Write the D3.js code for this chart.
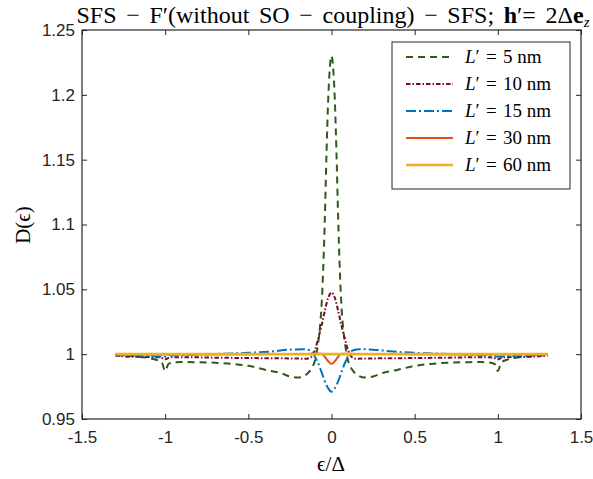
<!DOCTYPE html>
<html><head><meta charset="utf-8">
<script src="https://cdn.jsdelivr.net/npm/d3@7"></script>
<style>body{margin:0;background:#fff}svg{display:block}</style>
</head><body>
<script>
// ---------- data ----------
const xTicks = [-1.5, -1, -0.5, 0, 0.5, 1, 1.5];
const xTickLabels = ["-1.5", "-1", "-0.5", "0", "0.5", "1", "1.5"];
const yTicks = [0.95, 1, 1.05, 1.1, 1.15, 1.2, 1.25];
const yTickLabels = ["0.95", "1", "1.05", "1.1", "1.15", "1.2", "1.25"];

const seriesLengths = ["5", "10", "15", "30", "60"];

const x5 = [-1.3,-1.2,-1.1,-1.05,-1.02,-1.0,-0.98,-0.95,-0.9,-0.8,-0.7,-0.6,-0.5,-0.4,-0.3,-0.25,-0.2,-0.15,-0.12,-0.1,-0.09,-0.08,-0.07,-0.06,-0.05,-0.04,-0.03,-0.02,-0.01,0,
            0.01,0.02,0.03,0.04,0.05,0.06,0.07,0.08,0.09,0.1,0.12,0.15,0.2,0.25,0.3,0.4,0.5,0.6,0.7,0.8,0.9,0.95,0.98,1.0,1.02,1.05,1.1,1.2,1.3];
const y5 = [0.9993,0.9985,0.997,0.9955,0.9935,0.987,0.9925,0.9936,0.9939,0.9938,0.9934,0.9925,0.991,0.988,0.9852,0.9828,0.982,0.9845,0.989,0.995,1.001,1.009,1.020,1.037,1.065,1.105,1.155,1.196,1.221,1.230,
            1.221,1.196,1.155,1.105,1.065,1.037,1.020,1.009,1.001,0.995,0.989,0.9845,0.982,0.9828,0.9852,0.988,0.991,0.9925,0.9934,0.9938,0.9939,0.9936,0.9925,0.987,0.9935,0.9955,0.997,0.9985,0.9993];

const x10 = [-1.3,-1.2,-1.1,-1.03,-1.0,-0.97,-0.9,-0.7,-0.5,-0.3,-0.2,-0.15,-0.12,-0.1,-0.08,-0.06,-0.04,-0.02,0,
             0.02,0.04,0.06,0.08,0.1,0.12,0.15,0.2,0.3,0.5,0.7,0.9,0.97,1.0,1.03,1.1,1.2,1.3];
const y10 = [0.999,0.998,0.9978,0.9976,0.996,0.9975,0.9977,0.9973,0.997,0.9968,0.9966,0.9965,0.998,1.003,1.012,1.022,1.0335,1.0435,1.0475,
             1.0435,1.0335,1.022,1.012,1.003,0.998,0.9965,0.9966,0.9968,0.997,0.9973,0.9977,0.9975,0.996,0.9976,0.9978,0.998,0.999];

const x15 = [-1.3,-1.2,-1.1,-1.03,-1.0,-0.97,-0.9,-0.77,-0.6,-0.5,-0.37,-0.25,-0.17,-0.13,-0.11,-0.1,-0.08,-0.065,-0.05,-0.04,-0.02,0,
             0.02,0.04,0.05,0.065,0.08,0.1,0.11,0.13,0.17,0.25,0.37,0.5,0.6,0.77,0.9,0.97,1.0,1.03,1.1,1.2,1.3];
const y15 = [0.9994,0.9991,0.9987,0.9982,0.998,0.999,0.9992,0.9999,1.0006,1.001,1.002,1.0035,1.0038,1.003,1.0007,0.998,0.993,0.988,0.9826,0.979,0.9737,0.971,
             0.9737,0.979,0.9826,0.988,0.993,0.998,1.0007,1.003,1.0038,1.0035,1.002,1.001,1.0006,0.9999,0.9992,0.999,0.998,0.9982,0.9987,0.9991,0.9994];

const x30 = [-1.3,-1.0,-0.5,-0.15,-0.08,-0.06,-0.04,-0.02,0,0.02,0.04,0.06,0.08,0.15,0.5,1.0,1.3];
const y30 = [1.0,0.9998,1.0,1.0002,1.0004,1.0003,0.998,0.9945,0.9924,0.9945,0.998,1.0003,1.0004,1.0002,1.0,0.9998,1.0];

const x60 = [-1.3,-1.0,-0.5,0,0.5,1.0,1.3];
const y60 = [1.0,1.0,1.0,1.0,1.0,1.0,1.0];

// ---------- styles ----------
const colors = ["#2f5a1a", "#7a0c24", "#0072bd", "#d95319", "#edb120"];
const dashes = ["7,5", "4.5,2,1.5,2", "10,3,2,3", null, null];
const widths = [2, 2, 2, 2, 2.6];

const W = 593, H = 479;
const P = {l: 82, r: 581, t: 30, b: 419};

const svg = d3.select("body").append("svg").attr("width", W).attr("height", H);
const x = d3.scaleLinear().domain([-1.5, 1.5]).range([P.l, P.r]);
const y = d3.scaleLinear().domain([0.95, 1.25]).range([P.b, P.t]);

const axisColor = "#262626";
const sans = "'Liberation Sans', Arial, sans-serif";
const serif = "'Liberation Serif', 'Times New Roman', serif";

// series
const series = [[x5,y5],[x10,y10],[x15,y15],[x30,y30],[x60,y60]];
svg.append("clipPath").attr("id","c").append("rect")
  .attr("x", P.l).attr("y", P.t).attr("width", P.r-P.l).attr("height", P.b-P.t);
const line = d3.line().x(d => x(d[0])).y(d => y(d[1])).curve(d3.curveMonotoneX);
const g = svg.append("g").attr("clip-path","url(#c)");
series.forEach((s, i) => {
  const pts = s[0].map((v, k) => [v, s[1][k]]);
  g.append("path").attr("d", line(pts)).attr("fill","none")
    .attr("stroke", colors[i]).attr("stroke-width", widths[i])
    .attr("stroke-dasharray", dashes[i]);
});

// axes
function styleAxis(sel) {
  sel.select(".domain").remove();
  sel.selectAll("line").attr("stroke", axisColor).attr("stroke-width", 1);
  sel.selectAll("text").attr("fill", axisColor).style("font-family", sans).style("font-size", "17px");
}
svg.append("g").attr("transform", `translate(0,${P.b})`)
  .call(d3.axisBottom(x).tickValues(xTicks).tickSize(-5).tickPadding(12).tickFormat((d,i) => xTickLabels[i]))
  .call(styleAxis);
svg.append("g").attr("transform", `translate(0,${P.t})`)
  .call(d3.axisTop(x).tickValues(xTicks).tickSize(-5).tickFormat(""))
  .call(styleAxis);
svg.append("g").attr("transform", `translate(${P.l},0)`)
  .call(d3.axisLeft(y).tickValues(yTicks).tickSize(-5).tickPadding(7).tickFormat((d,i) => yTickLabels[i]))
  .call(styleAxis);
svg.append("g").attr("transform", `translate(${P.r},0)`)
  .call(d3.axisRight(y).tickValues(yTicks).tickSize(-5).tickFormat(""))
  .call(styleAxis);
svg.append("rect").attr("x", P.l).attr("y", P.t).attr("width", P.r-P.l).attr("height", P.b-P.t)
  .attr("fill","none").attr("stroke", axisColor).attr("stroke-width", 1.2);

// title
const t = svg.append("text").attr("x", 333).attr("y", 23).attr("text-anchor","middle")
  .style("font-family", serif).style("font-size","24px").attr("fill","#000");
t.append("tspan").text("SFS − F′(without SO − coupling) − SFS; ");
t.append("tspan").attr("font-weight","bold").text("h");
t.append("tspan").text("′= 2Δ");
t.append("tspan").attr("font-weight","bold").text("e");
t.append("tspan").attr("font-style","italic").attr("font-size","15px").attr("dy", 4).text("z");
const tw = t.node().getComputedTextLength();
if (tw < 513) t.attr("word-spacing", Math.min(4, (513 - tw) / 9).toFixed(2));

// axis labels
svg.append("text").attr("x", 331).attr("y", 471).attr("text-anchor","middle")
  .style("font-family", serif).style("font-size","21px").attr("fill","#000").text("ϵ/Δ");
svg.append("text").attr("transform","translate(30,225) rotate(-90)").attr("text-anchor","middle")
  .style("font-family", serif).style("font-size","21px").attr("fill","#000").text("D(ϵ)");

// legend
const L = {x: 392, y: 42, w: 178, h: 147};
svg.append("rect").attr("x", L.x).attr("y", L.y).attr("width", L.w).attr("height", L.h)
  .attr("fill","#fff").attr("stroke", axisColor).attr("stroke-width", 1);
const rowY = [57, 84, 111, 138, 165];
seriesLengths.forEach((len, i) => {
  svg.append("line").attr("x1", 406).attr("x2", 453).attr("y1", rowY[i]).attr("y2", rowY[i])
    .attr("stroke", colors[i]).attr("stroke-width", widths[i]).attr("stroke-dasharray", dashes[i]);
  const tx = svg.append("text").attr("x", 465).attr("y", rowY[i] + 6)
    .style("font-family", serif).style("font-size","19px").attr("fill","#000");
  tx.append("tspan").attr("font-style","italic").text("L");
  tx.append("tspan").text("′\u2004=\u2004" + len + "\u2005nm");
});
</script>
</body></html>
